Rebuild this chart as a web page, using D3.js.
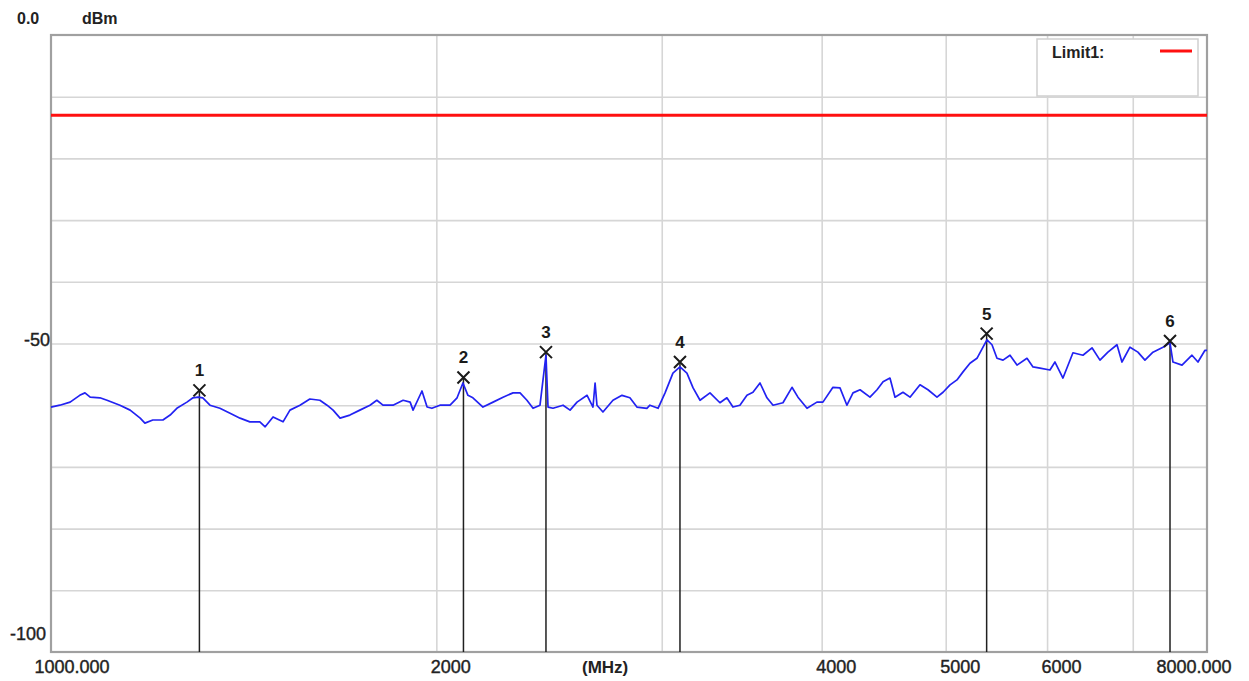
<!DOCTYPE html>
<html>
<head>
<meta charset="utf-8">
<script src="https://cdn.jsdelivr.net/npm/d3@7"></script>
<style>
  body { margin: 0; background: #fff; }
  svg { display: block; font-family: "Liberation Sans", Arial, sans-serif; }
</style>
</head>
<body>
<svg width="1249" height="681"></svg>
<script>
// trace: frequency (MHz) and level (dBm)
var traceFreq = [1000, 1016, 1035, 1053, 1063, 1073, 1092, 1106, 1132, 1153, 1174, 1184, 1201, 1223, 1239, 1254, 1277, 1291, 1303, 1314,
  1331, 1355, 1380, 1405, 1430, 1456, 1470, 1491, 1518, 1537, 1565, 1593, 1622, 1643, 1661, 1682, 1712, 1743, 1775, 1797,
  1817, 1850, 1884, 1908, 1918, 1949, 1967, 1984, 2013, 2050, 2076, 2098, 2117, 2136, 2175, 2215, 2255, 2296, 2325, 2354,
  2380, 2410, 2436, 2445, 2467, 2512, 2544, 2576, 2623, 2651, 2661, 2670, 2699, 2748, 2793, 2833, 2869, 2921, 2937, 2980,
  3018, 3061, 3100, 3139, 3174, 3214, 3272, 3331, 3373, 3410, 3453, 3497, 3535, 3580, 3625, 3665, 3731, 3792, 3833, 3896,
  3966, 4009, 4082, 4134, 4186, 4232, 4286, 4363, 4419, 4467, 4523, 4564, 4630, 4689, 4774, 4843, 4922, 4976, 5039, 5102,
  5158, 5223, 5289, 5347, 5385, 5434, 5483, 5543, 5613, 5684, 5787, 5850, 5924, 6031, 6086, 6174, 6286, 6400, 6505, 6599,
  6694, 6804, 6865, 6965, 7065, 7155, 7259, 7391, 7485, 7525, 7648, 7787, 7871, 7971, 8000];
var traceLevel = [-60.3, -60.0, -59.5, -58.4, -58.0, -58.7, -58.8, -59.2, -60.0, -60.8, -62.1, -62.9, -62.4, -62.4, -61.6, -60.5, -59.5, -58.8, -58.7, -58.8,
  -60.0, -60.5, -61.3, -62.1, -62.7, -62.7, -63.5, -61.9, -62.7, -60.8, -60.0, -59.0, -59.2, -60.0, -60.8, -62.1, -61.6, -60.8, -60.0, -59.2,
  -60.0, -60.0, -59.2, -59.5, -60.8, -57.7, -60.3, -60.5, -60.0, -60.0, -58.8, -56.4, -58.4, -58.8, -60.3, -59.5, -58.7, -58.0, -58.0, -59.2,
  -60.5, -60.0, -51.9, -60.3, -60.5, -60.0, -60.8, -59.5, -58.4, -60.3, -56.4, -60.0, -61.1, -59.2, -58.4, -58.8, -60.3, -60.5, -60.0, -60.5,
  -58.0, -54.8, -53.8, -54.8, -57.2, -59.2, -58.0, -59.6, -58.8, -60.3, -60.0, -58.4, -57.9, -56.4, -58.8, -60.0, -59.6, -57.1, -58.7, -60.5,
  -59.5, -59.5, -57.1, -57.2, -60.0, -58.0, -57.5, -58.7, -57.5, -56.2, -55.6, -58.7, -57.9, -58.7, -56.7, -57.5, -58.7, -57.9, -56.7, -55.9,
  -54.6, -53.2, -52.4, -50.6, -49.4, -50.2, -52.4, -52.7, -51.9, -53.5, -52.4, -53.8, -54.0, -54.3, -53.0, -55.6, -51.5, -51.9, -50.7, -52.7,
  -51.4, -50.2, -53.0, -50.6, -51.4, -52.7, -51.4, -50.6, -49.9, -53.0, -53.5, -51.9, -53.0, -51.1, -51.1];

// markers
var markerNo = ["1", "2", "3", "4", "5", "6"];
var markerFreq = [1306, 2100, 2436, 3100, 5382, 7485];
var markerLevel = [-57.6, -55.5, -51.4, -53.0, -48.4, -49.6];

var limitLevel = -13;
var limitName = "Limit1:";

// axes
var freqGrid = [2000, 3000, 4000, 5000, 6000, 7000];
var levelGrid = [-10, -20, -30, -40, -50, -60, -70, -80, -90];
var freqTicks = [1000, 2000, 4000, 5000, 6000, 8000];
var freqTickText = ["1000.000", "2000", "4000", "5000", "6000", "8000.000"];
var levelTicks = [-50, -100];

var svg = d3.select("svg");
var plotLeft = 51, plotRight = 1207, plotTop = 35, plotBottom = 652;

var x = d3.scaleLog().domain([1000, 8000]).range([plotLeft, plotRight]);
var y = d3.scaleLinear().domain([-100, 0]).range([plotBottom, plotTop]);

// grid
svg.append("g")
    .attr("transform", "translate(0," + plotBottom + ")")
    .call(d3.axisBottom(x).tickValues(freqGrid).tickSize(-(plotBottom - plotTop)).tickFormat(""))
    .call(function (g) {
        g.select(".domain").remove();
        g.selectAll("line").attr("stroke", "#d6d6d6").attr("stroke-width", 1.6);
    });

svg.append("g")
    .attr("transform", "translate(" + plotLeft + ",0)")
    .call(d3.axisLeft(y).tickValues(levelGrid).tickSize(-(plotRight - plotLeft)).tickFormat(""))
    .call(function (g) {
        g.select(".domain").remove();
        g.selectAll("line").attr("stroke", "#d6d6d6").attr("stroke-width", 1.6);
    });

// frame
svg.append("rect")
    .attr("x", plotLeft).attr("y", plotTop)
    .attr("width", plotRight - plotLeft).attr("height", plotBottom - plotTop)
    .attr("fill", "none")
    .attr("stroke", "#a0a0a0")
    .attr("stroke-width", 2.2);

// limit line
svg.append("line")
    .attr("x1", plotLeft).attr("x2", plotRight)
    .attr("y1", y(limitLevel)).attr("y2", y(limitLevel))
    .attr("stroke", "#ff1010")
    .attr("stroke-width", 3);

// marker drop lines
svg.append("g").selectAll("line")
    .data(markerFreq)
    .join("line")
    .attr("x1", function (d) { return x(d); })
    .attr("x2", function (d) { return x(d); })
    .attr("y1", function (d, i) { return y(markerLevel[i]); })
    .attr("y2", plotBottom)
    .attr("stroke", "#202020")
    .attr("stroke-width", 1.5);

// trace
var line = d3.line()
    .x(function (d) { return x(d); })
    .y(function (d, i) { return y(traceLevel[i]); });

svg.append("path")
    .datum(traceFreq)
    .attr("fill", "none")
    .attr("stroke", "#2222f2")
    .attr("stroke-width", 1.7)
    .attr("stroke-linejoin", "round")
    .attr("d", line);

// marker crosses and numbers
var mk = svg.append("g").selectAll("g")
    .data(markerFreq)
    .join("g")
    .attr("transform", function (d, i) { return "translate(" + x(d) + "," + y(markerLevel[i]) + ")"; });

mk.append("path")
    .attr("d", "M-6,-6L6,6M-6,6L6,-6")
    .attr("stroke", "#1a1a1a")
    .attr("stroke-width", 2)
    .attr("fill", "none");

mk.append("text")
    .attr("y", -14)
    .attr("text-anchor", "middle")
    .attr("font-size", 17)
    .attr("font-weight", "bold")
    .attr("fill", "#1a1a1a")
    .text(function (d, i) { return markerNo[i]; });

// x labels
var xl = svg.append("g")
    .attr("transform", "translate(0," + plotBottom + ")")
    .call(d3.axisBottom(x).tickValues(freqTicks).tickSize(0)
        .tickFormat(function (d, i) { return freqTickText[i]; }));
xl.select(".domain").remove();
xl.selectAll("text")
    .attr("font-family", "Liberation Sans, Arial, sans-serif")
    .attr("font-size", 18)
    .attr("fill", "#222")
    .attr("stroke", "#222")
    .attr("stroke-width", 0.4)
    .attr("text-anchor", "start")
    .attr("y", 21)
    .attr("dy", 0)
    .attr("dx", function (d, i) { return i === 0 ? -17 : (i === freqTicks.length - 1 ? -51 : -6); });

svg.append("text")
    .attr("x", 582).attr("y", plotBottom + 21)
    .attr("font-size", 17)
    .attr("font-weight", "bold")
    .attr("fill", "#222")
    .text("(MHz)");

// y labels
svg.append("g").selectAll("text")
    .data(levelTicks)
    .join("text")
    .attr("x", function (d) { return d === -100 ? plotLeft - 5 : plotLeft - 1; })
    .attr("y", function (d) { return d === -100 ? y(d) - 12 : y(d) + 2; })
    .attr("text-anchor", "end")
    .attr("font-size", 18)
    .attr("fill", "#222")
    .attr("stroke", "#222")
    .attr("stroke-width", 0.4)
    .text(function (d) { return d; });

svg.append("text")
    .attr("x", 17).attr("y", 24)
    .attr("font-size", 16).attr("font-weight", "bold").attr("fill", "#222")
    .text(y.domain()[1].toFixed(1));

svg.append("text")
    .attr("x", 82).attr("y", 24)
    .attr("font-size", 16).attr("font-weight", "bold").attr("fill", "#222")
    .text("dBm");

// legend
svg.append("rect")
    .attr("x", 1037).attr("y", 39)
    .attr("width", 161).attr("height", 57)
    .attr("fill", "#fff")
    .attr("stroke", "#cfcfcf")
    .attr("stroke-width", 1.5);

svg.append("text")
    .attr("x", 1052).attr("y", 58)
    .attr("font-size", 16).attr("font-weight", "bold").attr("fill", "#222")
    .text(limitName);

svg.append("line")
    .attr("x1", 1160).attr("x2", 1192)
    .attr("y1", 51).attr("y2", 51)
    .attr("stroke", "#ff1010")
    .attr("stroke-width", 3);
</script>
</body>
</html>
